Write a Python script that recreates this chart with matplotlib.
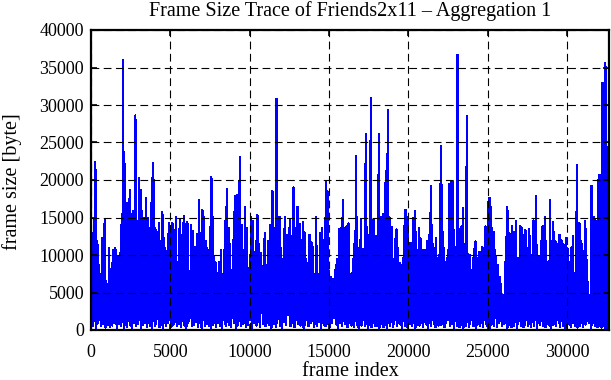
import numpy as np
import matplotlib
matplotlib.use("Agg")
import matplotlib.pyplot as plt

# frame size trace, read off the picture as upper envelope (peaks) and
# lower envelope (troughs), about one peak every 1.5 pixel column
peak_frame = [
    20, 273, 400, 505, 590, 694, 862, 967, 1030, 1135, 1240, 1303, 1387, 1535, 1703, 1829, 1934, 2018, 2102, 2165,
    2249, 2333, 2438, 2543, 2649, 2796, 2922, 3027, 3132, 3216, 3342, 3468, 3573, 3678, 3784, 3889, 3973, 4057, 4162, 4267,
    4372, 4498, 4604, 4687, 4793, 4898, 5003, 5129, 5255, 5339,
    5485, 5590, 5716, 5842, 5948, 6074, 6200, 6305, 6431, 6557, 6683, 6809, 6915, 7020, 7125, 7230, 7335, 7419, 7524, 7587,
    7671, 7755, 7839, 7944, 8071, 8197, 8302, 8386, 8470, 8554, 8659, 8764, 8869, 8974, 9058, 9185, 9290, 9374, 9500, 9605,
    9710, 9815, 9941, 10088, 10194, 10278, 10383, 10488, 10593, 10719,
    10950, 11055, 11160, 11307, 11434, 11518, 11602, 11686, 11770, 11875, 11980, 12085, 12211, 12337, 12527, 12632, 12758,
    12884, 13010, 13157, 13262, 13346, 13451, 13557, 13662, 13767, 13893, 13998, 14082, 14187, 14334, 14440, 14545, 14650,
    14734, 14818, 14902, 14986, 15112, 15259, 15427, 15532, 15638, 15743, 15869, 15974, 16100, 16226, 16373,
    16477, 16561, 16624, 16708, 16813, 16918, 17003, 17108, 17213, 17318, 17402, 17486, 17549, 17633, 17717, 17801, 17885,
    17969, 18054, 18138, 18222, 18306, 18390, 18474, 18558, 18621, 18705, 18810, 18895, 18979, 19063, 19147, 19252, 19357,
    19462, 19567, 19651, 19735, 19819, 19903, 19987, 20072, 20177, 20303, 20408, 20492, 20576, 20660, 20765, 20870, 20975,
    21101, 21207, 21312, 21417, 21480, 21564, 21669, 21753, 21858, 21963,
    22046, 22130, 22235, 22340, 22445, 22572, 22698, 22824, 22929, 23013, 23097, 23181, 23265, 23349, 23433, 23517, 23602,
    23686, 23770, 23854, 23959, 24064, 24148, 24232, 24316, 24400, 24484, 24568, 24653, 24758, 24863, 24947, 25031, 25115,
    25199, 25283, 25367, 25451, 25535, 25640, 25746, 25851, 25956, 26040, 26124, 26208, 26292, 26376, 26460, 26544, 26628,
    26712, 26797, 26881, 26965, 27049, 27133, 27217, 27301, 27385, 27490,
    27595, 27679, 27784, 27889, 27973, 28057, 28142, 28247, 28352, 28436, 28520, 28604, 28688, 28772, 28856, 28940, 29024,
    29108, 29193, 29277, 29361, 29445, 29529, 29613, 29697, 29781, 29865, 29949, 30033, 30117, 30202, 30286, 30370, 30454,
    30538, 30622, 30706, 30790, 30874, 30958, 31042, 31126, 31210, 31295, 31379, 31463, 31547, 31631, 31715, 31799, 31883,
    31967, 32051, 32135, 32219, 32304, 32388, 32472, 32556, 32619,
]
peak_size = [
    13400, 22400, 11800, 8700, 7400, 12300, 14700, 6500, 3800, 10900, 5100, 8900, 10600, 10900, 9700, 10200, 15100, 36000,
    23700, 17100, 16900, 16500, 18700, 15500, 15800, 28600, 14500, 20300, 18600, 15800, 14900, 17600, 14900, 13600, 16900,
    22300, 20000, 13600, 7800, 14200, 11800, 15700, 12200, 10900, 9600, 14200, 13100, 14300, 8300, 15000,
    9100, 14600, 12700, 15200, 14100, 14400, 6500, 14000, 13200, 11100, 12800, 17300, 12900, 16000, 15000, 11800, 10900,
    9100, 13800, 20400, 15000, 9700, 9100, 7600, 9100, 10700, 7500, 10700, 14500, 18800, 13600, 11400, 8000, 12000, 17900,
    18000, 18000, 23100, 14000, 10700, 16400, 13600, 8300, 15100, 14500, 5100, 11800, 15300, 11400, 10300,
    12900, 8600, 11900, 14000, 18500, 12700, 13600, 30800, 13900, 15100, 10900, 9400, 15000, 12600, 14600, 12500, 19000,
    13600, 16400, 14100, 10000, 14400, 13000, 9500, 8900, 12700, 11700, 11000, 7400, 15000, 7400, 12900, 13600, 9800,
    14900, 19800, 18500, 7800, 7100, 6800, 8700, 9500, 13500, 13600, 17300, 13600, 13800, 14200, 7400,
    7600, 11400, 13200, 23200, 10900, 7600, 14800, 10800, 10800, 26100, 13700, 12700, 12400, 30900, 12400, 14700, 8400,
    12500, 12300, 26100, 14900, 15100, 15500, 15500, 19600, 21200, 29300, 15000, 13700, 13700, 6800, 12100, 13400, 10900,
    8900, 8700, 9600, 13800, 16000, 15100, 14700, 11600, 11600, 14900, 15900, 13000, 10300, 13600, 12200, 10700, 10700,
    10700, 11900, 12700, 19200, 14000, 11400, 10900, 12300, 9600, 10000,
    24500, 19300, 10900, 9100, 9600, 19400, 19900, 19700, 10700, 11100, 36700, 13400, 10300, 13800, 16200, 11400, 10000,
    28500, 10100, 10000, 7900, 9600, 10800, 11800, 9600, 8300, 10400, 8300, 11000, 10900, 13800, 13200, 17000, 17600,
    16400, 13600, 13100, 10600, 9700, 8700, 7100, 6100, 4700, 2800, 9100, 16400, 15800, 12900, 12700, 13800, 13100,
    13000, 14500, 9600, 8300, 13900, 13700, 11800, 12700, 13300, 10900,
    13400, 12500, 10000, 14600, 11600, 17800, 9600, 9800, 11900, 13700, 13900, 15100, 11800, 9100, 9200, 17300, 11800,
    14400, 13100, 11800, 9100, 11400, 12700, 12000, 11900, 11400, 11100, 12300, 10900, 7600, 9100, 11000, 12500, 7600,
    6500, 22000, 14200, 14200, 11800, 11400, 9600, 14500, 13400, 6500, 4700, 4700, 19200, 13600, 15100, 14600, 14500,
    20000, 20700, 19800, 32900, 32900, 35600, 35100, 16300, 2500,
]
trough_size = [
    600, 300, 900, 1400, 500, 800, 300, 1200, 700, 400, 1500, 600, 900, 300, 800, 500, 1100, 200, 700, 900,
    400, 1300, 600, 300, 1000, 500, 800, 1400, 300, 700, 1000, 400, 900, 600, 200, 1200, 500, 800, 1500, 400,
    700, 300, 1000, 600, 900, 1300, 400, 700, 1100, 500,
    800, 400, 1200, 600, 300, 1000, 1600, 500, 700, 1100, 400, 900, 300, 1300, 600, 800, 1500, 500, 200, 900,
    700, 1200, 400, 1000, 600, 300, 1400, 800, 500, 1100, 700, 400, 1600, 900, 300, 600, 1200, 500, 800, 1000,
    400, 700, 1300, 300, 900, 1500, 600, 1100, 400, 800,
    500, 1000, 700, 300, 1200, 800, 400, 900, 1500, 600, 300, 1100, 700, 2000, 500, 900, 400, 1300, 800, 600,
    1000, 300, 700, 1400, 500, 900, 1200, 400, 800, 600, 1100, 300, 1000, 700, 500, 1300, 800, 400, 1000, 1600,
    700, 300, 900, 500, 1200, 800, 400, 1000, 600,
    900, 400, 1200, 700, 300, 1000, 600, 1400, 500, 800, 300, 1100, 700, 400, 1300, 900, 500, 1000, 600, 300,
    1200, 800, 400, 1500, 700, 300, 900, 600, 1100, 400, 800, 1300, 500, 1000, 700, 300, 1200, 600, 900, 400,
    1400, 800, 500, 1000, 300, 700, 1200, 600, 900, 400, 1100, 700, 300, 1000, 500, 1300, 800, 400, 900, 600, 1100,
    700, 1100, 400, 900, 1300, 500, 800, 300, 1200, 600, 1000, 400, 1500, 700, 300, 900, 600, 1100, 400, 800,
    1400, 500, 1000, 300, 700, 1200, 600, 900, 400, 1300, 800, 500, 1000, 300, 700, 1100, 600, 1600, 400, 900,
    1200, 500, 800, 1500, 1000, 300, 700, 1300, 400, 900, 600, 1100, 300, 800, 1200, 500, 1000, 400, 700, 1400, 600,
    800, 400, 1100, 600, 1300, 300, 900, 700, 1200, 500, 1000, 400, 800, 1400, 600, 300, 1100, 700, 1000, 500,
    1300, 900, 400, 1200, 600, 800, 300, 1000, 1500, 700, 400, 1100, 900, 500, 1300, 300, 800, 600, 1000, 400,
    1200, 700, 1600, 1200, 900, 300, 700, 1000, 500, 800, 400, 1100, 600, 300, 900, 500, 200, 300, 100, 100,
]

x_ticks = [0, 5000, 10000, 15000, 20000, 25000, 30000]
y_ticks = [0, 5000, 10000, 15000, 20000, 25000, 30000, 35000, 40000]

plt.rcParams['font.family'] = ['Liberation Serif', 'DejaVu Serif']
plt.rcParams['font.size'] = 13

# peak, then trough half way to next peak
pf = np.array(peak_frame, dtype=float)
mid = np.append((pf[:-1] + pf[1:]) / 2, pf[-1] + 30)
xs = np.empty(2 * len(pf))
ys = np.empty(2 * len(pf))
xs[0::2] = pf
xs[1::2] = mid
ys[0::2] = peak_size
ys[1::2] = trough_size

fig = plt.figure(figsize=(6.11, 3.80), dpi=100)
ax = fig.add_axes([91 / 611, 1 - 330 / 380, 518 / 611, 300 / 380])
ax.plot(xs, ys, color='#0000ff', lw=0.9, antialiased=False)

ax.set_xlim(0, 32650)
ax.set_ylim(0, 40000)
ax.set_xticks(x_ticks)
ax.set_yticks(y_ticks)
ax.set_axisbelow(False)
ax.grid(True, color='black', lw=0.8, linestyle=(0, (7, 4)))
ax.tick_params(direction='in', top=True, right=True, length=4, width=1.2)
ax.tick_params(axis='x', pad=10)
ax.tick_params(axis='y', pad=5)
for s in ax.spines.values():
    s.set_linewidth(1.6)

fig.text(350 / 611, 1 - 11 / 380, "Frame Size Trace of Friends2x11 \u2013 Aggregation 1",
         ha='center', va='center', fontsize=14.5)
fig.text(350 / 611, 1 - 372 / 380, "frame index", ha='center', va='center', fontsize=14.5)
fig.text(12 / 611, 1 - 182 / 380, "frame size [byte]", ha='center', va='center',
         rotation=90, fontsize=14.5)

fig.savefig("out.png", dpi=100)
